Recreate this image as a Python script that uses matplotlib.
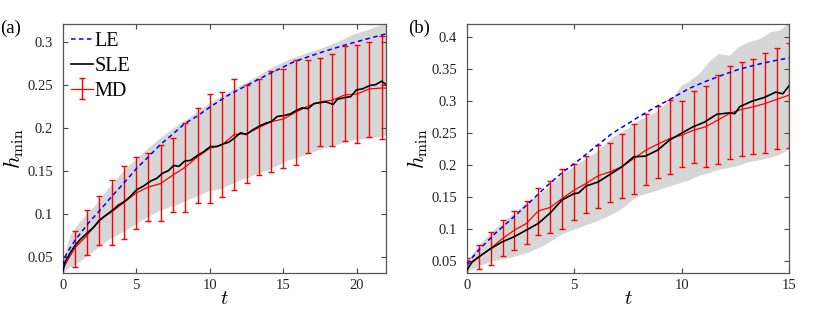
import numpy as np
import matplotlib
matplotlib.use("Agg")
import matplotlib.pyplot as plt
from matplotlib.ticker import FormatStrFormatter

plt.rcParams['font.family'] = ['Liberation Serif', 'DejaVu Serif']
plt.rcParams['mathtext.fontset'] = 'cm'

# ---- panel (a) ----
t_le_a = [0, 0.25, 0.5, 0.84, 1.75, 2.54, 3.34, 4.24, 5.05, 5.83, 6.63, 7.53, 8.33, 9.12,
          10.03, 11.2, 12.4, 14.1, 15.8, 17.5, 19.2, 20.9, 22.0]
le_a = [0.040, 0.053, 0.060, 0.069, 0.089, 0.104, 0.120, 0.137, 0.153, 0.166, 0.180, 0.193,
        0.205, 0.213, 0.224, 0.237, 0.248, 0.263, 0.277, 0.287, 0.296, 0.304, 0.309]

t_sle_a = [0, 0.2, 0.5, 0.84, 1.2, 1.7, 2.1, 2.5, 3.0, 3.4, 3.8, 4.2, 4.6, 5.05, 5.5, 6.0,
           6.4, 6.8, 7.2, 7.55, 7.9, 8.3, 8.7, 9.2, 9.6, 10.05, 10.5, 10.9, 11.3, 11.7, 12.1,
           12.5, 12.9, 13.4, 13.8, 14.2, 14.6, 15.05, 15.5, 15.9, 16.3, 16.7, 17.1, 17.5, 17.9,
           18.4, 18.7, 19.2, 19.6, 20.0, 20.4, 20.9, 21.3, 21.7, 22.0]
sle_a = [0.033, 0.045, 0.054, 0.063, 0.070, 0.078, 0.084, 0.092, 0.099, 0.104, 0.110, 0.114,
         0.120, 0.128, 0.132, 0.138, 0.141, 0.147, 0.150, 0.156, 0.155, 0.161, 0.162, 0.168,
         0.172, 0.178, 0.178, 0.181, 0.183, 0.188, 0.194, 0.192, 0.197, 0.202, 0.205, 0.207,
         0.213, 0.214, 0.216, 0.220, 0.223, 0.222, 0.228, 0.229, 0.230, 0.227, 0.233, 0.235,
         0.236, 0.244, 0.245, 0.249, 0.250, 0.254, 0.250]

t_band_a = [0, 0.5, 1.2, 2.1, 3.2, 4.4, 5.5, 6.6, 7.8, 8.9, 10.0, 10.7, 11.9, 13.0, 14.1,
            15.3, 16.4, 17.5, 18.7, 19.8, 20.9, 22.0]
band_hi_a = [0.045, 0.075, 0.092, 0.108, 0.132, 0.155, 0.172, 0.188, 0.203, 0.216, 0.229,
             0.236, 0.248, 0.258, 0.269, 0.279, 0.286, 0.292, 0.300, 0.309, 0.315, 0.322]
band_lo_a = [0.033, 0.038, 0.045, 0.057, 0.071, 0.082, 0.094, 0.104, 0.111, 0.119, 0.127,
             0.129, 0.138, 0.145, 0.152, 0.162, 0.168, 0.175, 0.181, 0.186, 0.188, 0.191]

t_md_a = [0.0, 0.83, 1.67, 2.5, 3.34, 4.17, 5.0, 5.84, 6.67, 7.51, 8.34, 9.18, 10.01, 10.85,
          11.68, 12.52, 13.35, 14.19, 15.02, 15.86, 16.69, 17.53, 18.36, 19.2, 20.03, 20.87,
          21.7, 22.0]
md_a = [0.036, 0.060, 0.075, 0.093, 0.102, 0.113, 0.124, 0.131, 0.135, 0.145, 0.154, 0.166,
        0.176, 0.180, 0.192, 0.193, 0.200, 0.207, 0.210, 0.218, 0.225, 0.230, 0.232, 0.238,
        0.239, 0.245, 0.246, 0.246]
md_lo_a = [0.021, 0.038, 0.052, 0.064, 0.064, 0.071, 0.082, 0.091, 0.092, 0.102, 0.102, 0.112,
           0.112, 0.119, 0.128, 0.136, 0.145, 0.148, 0.153, 0.157, 0.171, 0.179, 0.179, 0.184,
           0.182, 0.189, 0.187, 0.187]
md_hi_a = [0.051, 0.080, 0.104, 0.121, 0.139, 0.155, 0.166, 0.171, 0.180, 0.188, 0.205, 0.223,
           0.239, 0.241, 0.257, 0.250, 0.256, 0.266, 0.268, 0.279, 0.279, 0.281, 0.286, 0.295,
           0.296, 0.299, 0.307, 0.307]

# ---- panel (b) ----
t_le_b = [0, 0.56, 1.33, 2.1, 2.88, 3.66, 4.43, 5.2, 5.98, 6.76, 7.53, 8.0, 8.77, 9.54,
          10.32, 11.09, 11.87, 12.64, 13.42, 14.2, 15.0]
le_b = [0.045, 0.067, 0.093, 0.116, 0.140, 0.165, 0.1875, 0.207, 0.228, 0.249, 0.265, 0.275,
        0.290, 0.304, 0.319, 0.330, 0.340, 0.349, 0.356, 0.362, 0.367]

t_sle_b = [0, 0.25, 0.56, 1.11, 1.67, 2.2, 2.77, 3.33, 3.89, 4.43, 4.99, 5.2, 5.55, 6.1,
           6.66, 7.22, 7.76, 8.31, 8.88, 9.43, 9.97, 10.5, 11.07, 11.63, 12.17, 12.47, 12.7,
           13.27, 13.82, 14.37, 14.7, 15.0]
sle_b = [0.0355, 0.048, 0.056, 0.069, 0.080, 0.0875, 0.098, 0.1085, 0.125, 0.145, 0.155,
         0.156, 0.167, 0.173, 0.185, 0.197, 0.2125, 0.2136, 0.223, 0.2386, 0.249, 0.259,
         0.267, 0.279, 0.281, 0.280, 0.291, 0.2995, 0.305, 0.3136, 0.311, 0.324]

t_band_b = [0, 0.6, 1.3, 2.1, 2.9, 3.7, 4.4, 5.2, 6.0, 6.8, 7.2, 7.7, 8.0, 8.8, 9.5, 10.0,
            10.3, 10.8, 11.3, 11.7, 12.2, 12.6, 13.1, 13.6, 14.1, 14.5, 15.0]
band_hi_b = [0.050, 0.077, 0.100, 0.123, 0.144, 0.163, 0.185, 0.203, 0.220, 0.244, 0.252,
             0.262, 0.270, 0.283, 0.304, 0.325, 0.330, 0.343, 0.363, 0.374, 0.371, 0.384,
             0.392, 0.397, 0.408, 0.410, 0.423]
band_lo_b = [0.033, 0.043, 0.051, 0.056, 0.064, 0.077, 0.092, 0.102, 0.112, 0.124, 0.132,
             0.146, 0.152, 0.160, 0.168, 0.173, 0.176, 0.184, 0.188, 0.193, 0.196, 0.199,
             0.205, 0.208, 0.212, 0.216, 0.225]

t_md_b = [0.0, 0.56, 1.11, 1.67, 2.22, 2.78, 3.33, 3.89, 4.44, 5.0, 5.56, 6.11, 6.67, 7.22,
          7.78, 8.33, 8.89, 9.44, 10.0, 10.56, 11.11, 11.67, 12.22, 12.78, 13.33, 13.89,
          14.44, 15.0]
md_b = [0.043, 0.0563, 0.0693, 0.085, 0.098, 0.1085, 0.128, 0.1334, 0.1475, 0.1605, 0.171,
        0.1828, 0.1891, 0.197, 0.210, 0.223, 0.2323, 0.2412, 0.2464, 0.2542, 0.2594, 0.2698,
        0.2803, 0.2866, 0.2906, 0.2959, 0.3026, 0.309]
md_lo_b = [0.020, 0.038, 0.044, 0.057, 0.067, 0.076, 0.090, 0.093, 0.100, 0.114, 0.125, 0.132,
           0.142, 0.148, 0.155, 0.169, 0.180, 0.185, 0.197, 0.203, 0.197, 0.202, 0.209, 0.213,
           0.217, 0.218, 0.224, 0.227]
md_hi_b = [0.055, 0.075, 0.095, 0.114, 0.128, 0.144, 0.164, 0.175, 0.194, 0.201, 0.214, 0.231,
           0.234, 0.248, 0.264, 0.280, 0.292, 0.301, 0.300, 0.316, 0.323, 0.341, 0.355, 0.361,
           0.366, 0.375, 0.383, 0.390]


def panel(ax, t_band, lo, hi, t_le, le, t_sle, sle, t_md, md, md_lo, md_hi, mask):
    ax.fill_between(t_band, lo, hi, color='#d6d6d6', lw=0, zorder=1)
    md = np.array(md)
    yerr = [md - np.array(md_lo), np.array(md_hi) - md]
    l1, = ax.plot(t_le, le, '--', color='b', lw=1.1, dashes=(3, 2.2), zorder=4)
    l2, = ax.plot(t_sle, sle, '-', color='k', lw=1.2, zorder=3)
    l3 = ax.errorbar(t_md, md, yerr=yerr, errorevery=mask, color='r', ecolor='r',
                     lw=0.9, elinewidth=1.0, capsize=2, capthick=1.0, zorder=2)
    ax.tick_params(direction='in', top=True, right=True, length=3.5, width=0.8,
                   color='#444444', labelsize=10.5, labelcolor='#222222')
    ax.tick_params(axis='y', pad=7)
    ax.tick_params(axis='x', pad=4)
    for s in ax.spines.values():
        s.set_color('#555555')
        s.set_linewidth(0.9)
    ax.yaxis.set_major_formatter(FormatStrFormatter('%g'))
    ax.set_xlabel('$t$', fontsize=15, labelpad=-1)
    ax.set_ylabel(r'$h_{\min}$', fontsize=16, labelpad=1)
    return l1, l2, l3


fig = plt.figure(figsize=(8.3, 3.19), dpi=100)
ax1 = fig.add_axes([0.0755, 0.1442, 0.3895, 0.7806])
ax2 = fig.add_axes([0.5623, 0.1442, 0.3887, 0.7806])

mask_a = [True] * (len(t_md_a) - 1) + [False]
h = panel(ax1, t_band_a, band_lo_a, band_hi_a, t_le_a, le_a, t_sle_a, sle_a,
          t_md_a, md_a, md_lo_a, md_hi_a, mask_a)
ax1.set_xlim(0, 22)
ax1.set_ylim(0.031, 0.3205)
ax1.set_xticks([0, 5, 10, 15, 20])
ax1.set_yticks([0.05, 0.1, 0.15, 0.2, 0.25, 0.3])
ax1.legend(h, ['LE', 'SLE', 'MD'], loc='upper left', frameon=False, fontsize=14.5,
           handlelength=1.1, handletextpad=0.1, labelspacing=0.28,
           borderaxespad=0.0, bbox_to_anchor=(0.0, 1.0))

mask_b = [True] * len(t_md_b)
panel(ax2, t_band_b, band_lo_b, band_hi_b, t_le_b, le_b, t_sle_b, sle_b,
      t_md_b, md_b, md_lo_b, md_hi_b, mask_b)
ax2.set_xlim(0, 15)
ax2.set_ylim(0.031, 0.42)
ax2.set_xticks([0, 5, 10, 15])
ax2.set_yticks([0.05, 0.1, 0.15, 0.2, 0.25, 0.3, 0.35, 0.4])

fig.text(0.0, 0.911, '(a)', fontsize=13.5, va='center', ha='left')
fig.text(0.492, 0.911, '(b)', fontsize=13.5, va='center', ha='left')

fig.savefig('out.png', dpi=100)
